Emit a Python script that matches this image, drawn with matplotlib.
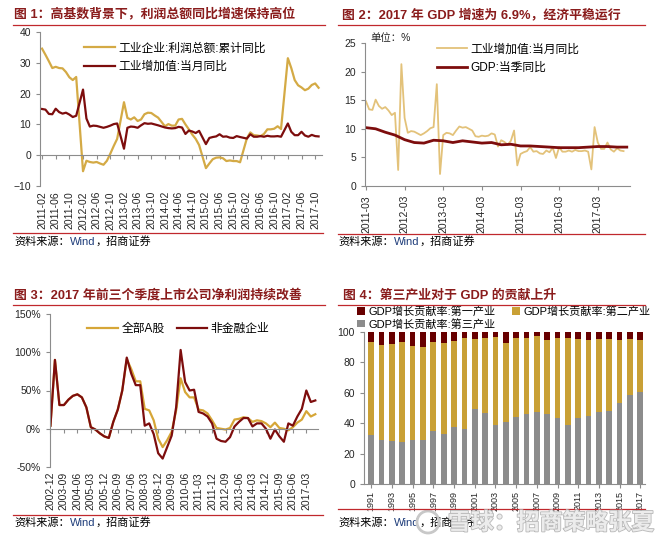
import numpy as np, pandas as pd
import matplotlib; matplotlib.use("Agg")
import matplotlib.pyplot as plt
import matplotlib.patheffects as pe
from matplotlib.lines import Line2D
from matplotlib.patches import Circle

plt.rcParams['font.family'] = ['Liberation Sans', 'Noto Sans CJK SC']

W, H, DPI = 660, 543, 100

# ---- panel 1: industrial profits (cum yoy) vs industrial value added (monthly yoy); no January prints
p1_profit = [34.6, 32.6, 30.5, 28.3, 28.7, 28.3, 28.2, 27.0, 25.3, 24.4, 25.4,
             -5.2, -1.8, -2.2, -2.4, -2.2, -2.7, -3.1, -1.8, 0.5, 3.0, 5.3,
             17.2, 12.1, 11.6, 12.3, 11.1, 11.6, 13.3, 13.8, 13.7, 12.9, 12.2,
             9.4, 10.1, 9.6, 9.6, 11.6, 11.8, 10.0, 8.4, 6.7, 5.3, 3.3,
             -4.2, -2.7, -1.3, -0.8, -0.7, -1.0, -1.9, -1.7, -1.9, -1.9, -2.3,
             5.5, 7.4, 6.5, 6.4, 6.2, 6.9, 8.4, 8.4, 8.6, 9.4, 8.5,
             31.5, 28.3, 24.4, 22.7, 22.0, 21.1, 21.6, 22.8, 23.3, 21.9]
p1_iva = [15.0, 14.8, 13.4, 13.3, 15.1, 14.0, 13.5, 13.8, 13.2, 12.4, 12.8,
          21.3, 11.9, 9.3, 9.6, 9.5, 9.2, 8.9, 9.2, 9.6, 10.1, 10.3,
          2.1, 8.9, 9.3, 9.2, 8.9, 9.7, 10.4, 10.2, 10.3, 10.0, 9.7,
          9.0, 8.8, 8.7, 8.8, 9.2, 9.0, 6.9, 8.0, 7.7, 7.2, 7.9,
          3.6, 5.6, 5.9, 6.1, 6.8, 6.0, 6.1, 5.7, 5.6, 6.2, 5.9,
          5.4, 6.8, 6.0, 6.0, 6.2, 6.0, 6.3, 6.1, 6.1, 6.2, 6.0,
          10.3, 7.6, 6.5, 6.5, 7.6, 6.4, 6.0, 6.6, 6.2, 6.1]
p1_labels = ["工业企业:利润总额:累计同比", "工业增加值:当月同比"]

# ---- panel 2: IVA monthly yoy (2011-03..2017-11) and GDP quarterly yoy
p2_iva = [14.8, 13.4, 13.3, 15.1, 14.0, 13.5, 13.8, 13.2, 12.4, 12.8,
          2.8, 21.3, 11.9, 9.3, 9.6, 9.5, 9.2, 8.9, 9.2, 9.6, 10.1, 10.3,
          17.8, 2.1, 8.9, 9.3, 9.2, 8.9, 9.7, 10.4, 10.2, 10.3, 10.0, 9.7,
          8.7, 8.6, 8.8, 8.7, 8.8, 9.2, 9.0, 6.9, 8.0, 7.7, 7.2, 7.9,
          9.7, 3.6, 5.6, 5.9, 6.1, 6.8, 6.0, 6.1, 5.7, 5.6, 6.2, 5.9,
          6.7, 4.9, 6.8, 6.0, 6.0, 6.2, 6.0, 6.3, 6.1, 6.1, 6.2, 6.0,
          2.9, 10.3, 7.6, 6.5, 6.5, 7.6, 6.4, 6.0, 6.6, 6.2, 6.1]
p2_gdp = [10.2, 10.0, 9.4, 8.9, 8.1, 7.6, 7.5, 8.0, 7.9, 7.6, 7.9, 7.7, 7.5, 7.6,
          7.2, 7.3, 7.0, 7.0, 6.9, 6.8, 6.7, 6.7, 6.7, 6.8, 6.9, 6.9, 6.8, 6.8]
p2_labels = ["工业增加值:当月同比", "GDP:当季同比"]

# ---- panel 3: listed-company net profit growth, quarterly 2002-12..2017-09 (%)
p3_all = [4, 90, 31, 31, 38, 43, 45, 41, 28, 2, -1, -6, -10, -12, 9, 25, 50, 91,
          78, 62, 62, 26, 24, 11, -13, -24, -15, -4, 24, 66, 48, 41, 41, 25, 24, 20,
          11, 1, 0, -1, 1, 12, 13, 15, 14, 9, 11, 10, 7, 2, 8, 1, 0, -2, 2, 8, 12,
          23, 16, 19]
p3_nonfin = [4, 90, 31, 31, 38, 43, 45, 41, 28, 2, -1, -6, -10, -12, 9, 25, 50, 93,
             72, 57, 57, 4, 7, -7, -32, -39, -24, -9, 28, 103, 61, 50, 51, 22, 20, 16,
             7, -13, -16, -17, -11, 3, 9, 14, 14, 3, 7, 7, 0, -13, -1, -10, -17, 7, 4,
             16, 26, 50, 35, 37]
p3_labels = ["全部A股", "非金融企业"]

# ---- panel 4: contribution to GDP growth by sector (%)
p4_years = list(range(1991, 2018))
p4_primary = [6.6, 8.3, 7.7, 6.6, 9.0, 9.6, 6.6, 7.2, 5.9, 4.2, 4.8, 4.2, 3.3, 7.2,
              4.2, 4.2, 2.4, 5.5, 4.2, 3.7, 4.4, 5.5, 4.8, 4.8, 5.0, 4.4, 5.0]
p4_secondary = [61.1, 62.7, 64.1, 65.9, 62.0, 61.4, 58.5, 59.8, 56.3, 59.3, 46.1, 49.3,
                57.8, 52.2, 51.5, 49.7, 50.2, 48.6, 52.1, 57.4, 51.9, 49.5, 47.8, 47.4,
                41.5, 37.3, 34.5]
p4_tertiary = [32.3, 29.0, 28.2, 27.5, 29.0, 29.0, 34.9, 33.0, 37.8, 36.5, 49.1, 46.5,
               38.9, 40.6, 44.3, 46.1, 47.4, 45.9, 43.7, 38.9, 43.7, 45.0, 47.4, 47.8,
               53.5, 58.3, 60.5]
p4_labels = ["GDP增长贡献率:第一产业", "GDP增长贡献率:第二产业", "GDP增长贡献率:第三产业"]

TITLE = "#8a1c1c"; RULE = "#c0282d"; AXC = "#8c8c8c"; TXT = "#262626"
GOLD1 = "#d4aa45"; GOLD2 = "#e3c27a"; GOLD3 = "#d6a637"; BAR_GOLD = "#c9a035"
DRED = "#7d0d0d"; BAR_RED = "#680000"; GRAY = "#8c8c8c"

fig = plt.figure(figsize=(W / DPI, H / DPI), dpi=DPI)
fig.patch.set_facecolor("white")

def box(l, t, r, b):
    return fig.add_axes([l / W, 1 - b / H, (r - l) / W, (b - t) / H])

def header(x, y, text, x0, x1, ly):
    fig.text(x / W, 1 - y / H, text, color=TITLE, fontsize=9.3, fontweight="bold", va="center")
    fig.add_artist(Line2D([x0 / W, x1 / W], [1 - ly / H] * 2, color=RULE, lw=0.9))

def source(ax, x, y, x0, x1, ly):
    fig.add_artist(Line2D([x0 / W, x1 / W], [1 - ly / H] * 2, color=RULE, lw=0.9))
    t1 = fig.text(x / W, 1 - y / H, "资料来源：", fontsize=8, color="black", va="center")
    t2 = ax.annotate("Wind", xy=(1, 0), xycoords=t1, va="bottom", fontsize=8, color="#1f3d7a")
    ax.annotate("，招商证券", xy=(1, 0), xycoords=t2, va="bottom", fontsize=8, color="black")

def style(ax):
    for s in ["top", "right"]:
        ax.spines[s].set_visible(False)
    for s in ["left", "bottom"]:
        ax.spines[s].set_color(AXC); ax.spines[s].set_linewidth(0.8)
    ax.tick_params(colors=AXC, labelcolor=TXT, labelsize=7.5, length=3, width=0.8)
    ax.set_facecolor("none")

def zero_xaxis(ax, gap=5):
    ax.spines["bottom"].set_position(("data", 0))
    y0 = ax.transData.transform((0, 0))[1]
    yb = ax.transAxes.transform((0, 0))[1]
    ax.tick_params(axis="x", pad=(y0 - yb + gap) * 72 / DPI - 3)

# ================= panel 1 =================
ax1 = box(40, 32, 322, 186)
months1 = [p for p in pd.period_range("2011-02", "2017-11", freq="M") if p.month != 1]
x1 = [(p.year - 2011) * 12 + p.month - 2 for p in months1]
ax1.plot(x1, p1_profit, color=GOLD1, lw=1.6, label=p1_labels[0])
ax1.plot(x1, p1_iva, color=DRED, lw=1.6, label=p1_labels[1])
ax1.set_xlim(-0.6, 82); ax1.set_ylim(-10, 40)
style(ax1); zero_xaxis(ax1)
ax1.set_yticks(range(-10, 41, 10))
t1 = pd.period_range("2011-02", "2017-10", freq="4M")
ax1.set_xticks([(p.year - 2011) * 12 + p.month - 2 for p in t1])
ax1.set_xticklabels([p.strftime("%Y-%m") for p in t1])
ax1.tick_params(axis="x", labelrotation=90)
ax1.legend(loc="upper left", bbox_to_anchor=(0.12, 1.0), frameon=False, fontsize=8.5,
           handlelength=2.6, labelspacing=0.55, handletextpad=0.3)
header(14, 15, "图 1：高基数背景下，利润总额同比增速保持高位", 13, 325, 25)
source(ax1, 14, 242, 13, 323, 233)

# ================= panel 2 =================
ax2 = box(365, 43, 630, 186)
x2 = np.arange(len(p2_iva))
xg = np.arange(len(p2_gdp)) * 3
ax2.plot(x2, p2_iva, color=GOLD2, lw=1.3, label=p2_labels[0])
ax2.plot(xg, p2_gdp, color=DRED, lw=2.0, label=p2_labels[1])
ax2.set_xlim(-0.3, 82); ax2.set_ylim(0, 25)
style(ax2)
ax2.set_yticks(range(0, 26, 5))
t2 = pd.period_range("2011-03", "2017-03", freq="12M")
ax2.set_xticks(np.arange(len(t2)) * 12)
ax2.set_xticklabels([p.strftime("%Y-%m") for p in t2])
ax2.tick_params(axis="x", labelrotation=90)
ax2.legend(loc="upper left", bbox_to_anchor=(0.23, 1.07), frameon=False, fontsize=8.5,
           handlelength=2.6, labelspacing=0.55, handletextpad=0.3)
fig.text(370 / W, 1 - 38 / H, "单位：%", fontsize=7.5, color=TXT, va="center")
header(342, 15, "图 2：2017 年 GDP 增速为 6.9%，经济平稳运行", 338, 645, 25)
source(ax2, 338, 242, 338, 645, 234)

# ================= panel 3 =================
ax3 = box(50, 314, 318, 467)
q3 = pd.period_range("2002Q4", "2017Q3", freq="Q")
x3 = np.arange(len(q3))
ax3.plot(x3, p3_all, color=GOLD3, lw=1.6, label=p3_labels[0])
ax3.plot(x3, p3_nonfin, color=DRED, lw=1.6, label=p3_labels[1])
ax3.set_xlim(-0.1, 59.6); ax3.set_ylim(-50, 150)
style(ax3); zero_xaxis(ax3)
ax3.set_yticks(range(-50, 151, 50))
ax3.set_yticklabels([f"{v}%" for v in range(-50, 151, 50)])
ax3.set_xticks(x3[::3])
ax3.set_xticklabels([f"{p.year}-{p.quarter * 3:02d}" for p in q3[::3]])
ax3.tick_params(axis="x", labelrotation=90)
ax3.legend(loc="upper left", bbox_to_anchor=(0.1, 1.01), frameon=False, fontsize=8.5, ncol=2,
           handlelength=2.6, columnspacing=1.0, handletextpad=0.3)
header(14, 295, "图 3：2017 年前三个季度上市公司净利润持续改善", 13, 325, 305)
source(ax3, 14, 523, 13, 323, 515)

# ================= panel 4 =================
ax4 = box(364, 332, 645, 484)
x4 = np.arange(len(p4_years))
b3 = ax4.bar(x4, p4_tertiary, width=0.55, color=GRAY, label=p4_labels[2])
b2 = ax4.bar(x4, p4_secondary, width=0.55, bottom=p4_tertiary, color=BAR_GOLD, label=p4_labels[1])
b1 = ax4.bar(x4, p4_primary, width=0.55, bottom=np.add(p4_tertiary, p4_secondary),
             color=BAR_RED, label=p4_labels[0])
ax4.set_xlim(-0.7, 26.45); ax4.set_ylim(0, 100)
style(ax4)
ax4.set_yticks(range(0, 101, 20))
ax4.set_xticks(x4[::2])
ax4.set_xticklabels([str(y) for y in p4_years[::2]], rotation=90)
ax4.tick_params(axis="x", labelsize=6.5, pad=2)
ax4.legend([b1, b3, b2], [p4_labels[0], p4_labels[2], p4_labels[1]], ncol=2,
           loc="upper left", bbox_to_anchor=(357 / W, 1 - 306 / H), bbox_transform=fig.transFigure,
           frameon=False, fontsize=8, borderaxespad=0, borderpad=0,
           handlelength=0.7, handleheight=0.7, handletextpad=0.3, columnspacing=1.5,
           labelspacing=0.15)
header(343, 295, "图 4：第三产业对于 GDP 的贡献上升", 338, 645, 305)
source(ax4, 338, 523, 338, 645, 509)

# watermark
fig.text(448 / W, 1 - 523 / H, "雪球：招商策略张夏", fontsize=16.5, fontweight="bold",
         color="#ececec", va="center",
         path_effects=[pe.withStroke(linewidth=1.2, foreground="#b8b8b8")])
fig.add_artist(Circle((428 / DPI, (H - 522) / DPI), 11 / DPI, transform=fig.dpi_scale_trans,
                      facecolor="none", edgecolor="#c8c8c8", lw=2))

fig.savefig("out.png", dpi=DPI, facecolor="white")
